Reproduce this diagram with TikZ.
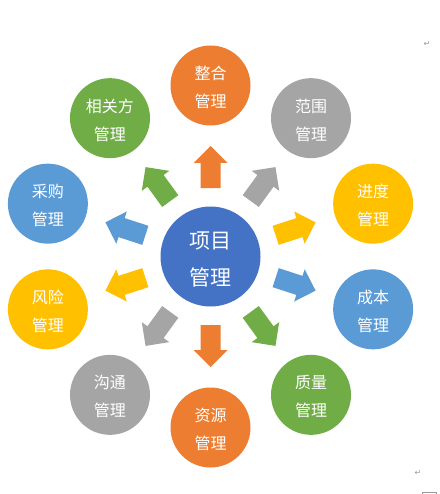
\documentclass[tikz,border=0pt]{standalone}
\usepackage{fontspec}
\usetikzlibrary{calc}
\newfontfamily\cjk{Noto Sans CJK SC}
\newfontfamily\dvs{DejaVu Sans}
\definecolor{cOrange}{HTML}{ED7D31}
\definecolor{cGray}{HTML}{A5A5A5}
\definecolor{cYellow}{HTML}{FFC000}
\definecolor{cBlue}{HTML}{5B9BD5}
\definecolor{cGreen}{HTML}{70AD47}
\definecolor{cCenter}{HTML}{4472C4}
\begin{document}
\begin{tikzpicture}[x=1pt,y=1pt,
  outer/.style={circle,minimum size=80pt,inner sep=0pt},
  outertext/.style={inner sep=0pt,text=white,align=center,yshift=-2pt,
    font=\cjk\fontsize{16}{28}\selectfont},
  hub/.style={circle,minimum size=100pt,inner sep=0pt,fill=cCenter},
  hubtext/.style={inner sep=0pt,text=white,align=center,yshift=-3pt,
    font=\cjk\fontsize{21}{37}\selectfont},
  pmark/.style={text=black!40,font=\dvs\fontsize{8}{8}\selectfont,inner sep=0pt}]
\useasboundingbox (0,-494) rectangle (439,0);
\coordinate (C) at (210.5,-256.5);
% arrows
\foreach \ang/\col in {90/cOrange,54/cGray,18/cYellow,-18/cBlue,-54/cGreen,-90/cOrange,-126/cGray,-162/cYellow,162/cBlue,126/cGreen}{
  \begin{scope}[shift={(C)},rotate=\ang]
    \fill[\col] (68.5,-10) -- (93.5,-10) -- (93.5,-17) -- (110.5,0) -- (93.5,17) -- (93.5,10) -- (68.5,10) -- cycle;
  \end{scope}
}
\node[hub] (hub) at (C) {};
\node[hubtext] (hubt) at (hub.center) {项目\\管理};
\foreach \nm/\ang/\col/\txt in {zh/90/cOrange/整合,fw/54/cGray/范围,jd/18/cYellow/进度,cb/-18/cBlue/成本,zl/-54/cGreen/质量,zy/-90/cOrange/资源,gt/-126/cGray/沟通,fx/-162/cYellow/风险,cg/162/cBlue/采购,xgf/126/cGreen/相关方}{
  \node[outer,fill=\col] (\nm) at ($(C)+(\ang:171)$) {};
  \node[outertext] (\nm t) at (\nm.center) {\txt\\管理};
}
\node[pmark] (m1) at (427,-44) {↵};
\node[pmark] (m2) at (418,-473) {↵};
\draw[black!40,line width=0.8pt] (422.5,-494) -- (422.5,-492) -- (436,-492) -- (436,-494);
\end{tikzpicture}
\end{document}
